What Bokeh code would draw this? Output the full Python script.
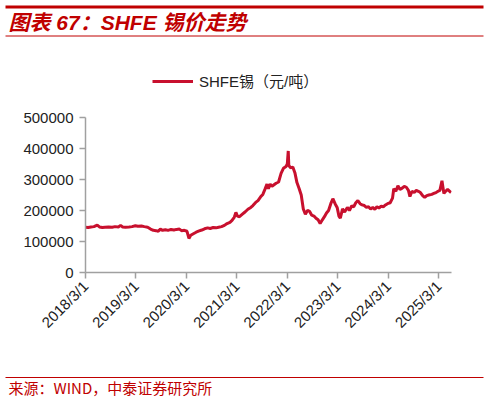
import pandas as pd
from bokeh.plotting import figure
from bokeh.layouts import column
from bokeh.models import (Range1d, FixedTicker, Legend, LegendItem, ColumnDataSource)
from bokeh.core.properties import value
from bokeh.embed import file_html
from bokeh.resources import INLINE

# SHFE tin price, yuan/ton
dates = [
    "2018-03-01", "2018-03-20", "2018-04-10", "2018-05-01", "2018-05-25", "2018-06-10",
    "2018-07-01", "2018-07-20", "2018-08-15", "2018-09-10", "2018-10-01", "2018-10-25",
    "2018-11-10", "2018-11-25", "2018-12-15", "2019-01-10", "2019-02-01", "2019-02-25",
    "2019-03-15", "2019-04-10", "2019-05-01", "2019-05-25", "2019-06-15", "2019-07-05",
    "2019-07-25", "2019-08-10", "2019-08-25", "2019-09-10", "2019-10-01", "2019-10-20",
    "2019-11-10", "2019-12-01", "2019-12-20", "2020-01-10", "2020-01-25", "2020-02-15",
    "2020-03-05", "2020-03-19", "2020-04-01", "2020-04-20", "2020-05-10", "2020-06-01",
    "2020-06-20", "2020-07-10", "2020-08-01", "2020-08-20", "2020-09-10", "2020-10-01",
    "2020-10-20", "2020-11-10", "2020-12-01", "2020-12-20", "2021-01-10", "2021-01-25",
    "2021-02-10", "2021-02-22", "2021-03-05", "2021-03-20", "2021-04-10", "2021-05-01",
    "2021-05-20", "2021-06-10", "2021-06-25", "2021-07-15", "2021-08-01", "2021-08-20",
    "2021-09-05", "2021-09-20", "2021-10-05", "2021-10-15", "2021-10-28", "2021-11-10",
    "2021-11-25", "2021-12-10", "2021-12-28", "2022-01-15", "2022-02-01", "2022-02-20",
    "2022-03-01", "2022-03-08", "2022-03-12", "2022-03-25", "2022-04-10", "2022-04-25",
    "2022-05-10", "2022-05-25", "2022-06-10", "2022-06-25", "2022-07-10", "2022-07-25",
    "2022-08-10", "2022-08-25", "2022-09-10", "2022-09-25", "2022-10-10", "2022-10-25",
    "2022-11-10", "2022-11-25", "2022-12-10", "2022-12-25", "2023-01-10", "2023-01-25",
    "2023-02-10", "2023-02-25", "2023-03-10", "2023-03-20", "2023-04-05", "2023-04-20",
    "2023-05-10", "2023-05-25", "2023-06-10", "2023-06-25", "2023-07-10", "2023-07-25",
    "2023-08-10", "2023-08-25", "2023-09-10", "2023-09-25", "2023-10-10", "2023-10-25",
    "2023-11-10", "2023-11-25", "2023-12-10", "2023-12-25", "2024-01-10", "2024-01-25",
    "2024-02-10", "2024-02-25", "2024-03-15", "2024-04-01", "2024-04-10", "2024-04-25",
    "2024-05-10", "2024-05-25", "2024-06-10", "2024-06-25", "2024-07-10", "2024-07-25",
    "2024-08-05", "2024-08-20", "2024-09-05", "2024-09-20", "2024-10-05", "2024-10-20",
    "2024-11-05", "2024-11-20", "2024-12-05", "2024-12-20", "2025-01-10", "2025-01-25",
    "2025-02-10", "2025-02-25", "2025-03-10", "2025-03-25", "2025-04-01", "2025-04-08",
    "2025-04-20", "2025-05-05", "2025-05-20", "2025-05-30",
]
tin_price = [
    146000, 145000, 147000, 148000, 153000, 147000,
    145000, 146000, 147000, 146000, 148000, 147000,
    152000, 147000, 146000, 147000, 148000, 151000,
    149000, 150000, 148000, 146000, 140000, 136000,
    135000, 133000, 140000, 136000, 138000, 136000,
    139000, 137000, 139000, 140000, 135000, 136000,
    133000, 110000, 120000, 125000, 130000, 134000,
    137000, 141000, 144000, 142000, 145000, 144000,
    146000, 148000, 152000, 158000, 162000, 168000,
    178000, 194000, 182000, 180000, 188000, 196000,
    204000, 210000, 216000, 226000, 232000, 244000,
    252000, 268000, 285000, 270000, 285000, 278000,
    283000, 288000, 292000, 320000, 336000, 342000,
    350000, 392000, 345000, 338000, 340000, 322000,
    290000, 272000, 250000, 205000, 188000, 200000,
    197000, 185000, 182000, 175000, 170000, 158000,
    170000, 180000, 192000, 200000, 222000, 238000,
    222000, 210000, 182000, 175000, 205000, 195000,
    210000, 200000, 215000, 212000, 225000, 232000,
    222000, 218000, 216000, 210000, 212000, 205000,
    210000, 204000, 212000, 208000, 214000, 212000,
    218000, 222000, 225000, 240000, 270000, 262000,
    280000, 268000, 272000, 278000, 275000, 265000,
    245000, 262000, 258000, 265000, 262000, 258000,
    248000, 242000, 248000, 250000, 252000, 255000,
    258000, 262000, 265000, 296000, 275000, 255000,
    262000, 268000, 262000, 258000,
]
tick_dates = ["2018-03-01", "2019-03-01", "2020-03-01", "2021-03-01",
              "2022-03-01", "2023-03-01", "2024-03-01", "2025-03-01"]
tick_labels = ["2018/3/1", "2019/3/1", "2020/3/1", "2021/3/1",
               "2022/3/1", "2023/3/1", "2024/3/1", "2025/3/1"]
y_ticks = [0, 100000, 200000, 300000, 400000, 500000]

RED = "#C00000"
LINE_RED = "#C8102E"
W = 488
LATIN_CJK = "Liberation Sans, Noto Sans CJK SC"


def ms(d):
    return pd.Timestamp(d).value / 1e6


def banner(height):
    f = figure(width=W, height=height, x_range=Range1d(0, W), y_range=Range1d(height, 0),
               output_backend="svg", toolbar_location=None, min_border=0,
               x_axis_location=None, y_axis_location=None, outline_line_color=None)
    f.grid.visible = False
    return f


# header: rules and title
head = banner(38)
head.segment(x0=[5], x1=[483], y0=[6.5], y1=[6.5], line_color=RED, line_width=3)
head.segment(x0=[5], x1=[483], y0=[35.5], y1=[35.5], line_color=RED, line_width=1)
head.text(x=[8], y=[22], text=["图表 67：SHFE 锡价走势"], text_color=RED,
          text_font=value(LATIN_CJK), text_font_size="21px",
          text_font_style="bold italic", text_baseline="middle")

# main chart; the frame reaches up to the legend row, the y axis stops at 500000
frame_h = 202
y_top = 500000 * frame_h / 155
src = ColumnDataSource(data=dict(date=pd.to_datetime(dates), price=tin_price))
p = figure(width=W, height=330, x_axis_type="datetime",
           x_range=Range1d(ms("2018-03-01"), ms("2025-06-02")),
           y_range=Range1d(0, y_top),
           output_backend="svg", toolbar_location=None,
           min_border_left=85, min_border_right=37,
           min_border_top=32, min_border_bottom=96,
           outline_line_color=None)
p.grid.visible = False
r = p.line("date", "price", source=src, line_color=LINE_RED, line_width=3)

tick_ms = [ms(d) for d in tick_dates]
p.xaxis.ticker = FixedTicker(ticks=tick_ms)
p.xaxis.major_label_overrides = {t: l for t, l in zip(tick_ms, tick_labels)}
p.xaxis.major_label_orientation = 0.785
p.xaxis.minor_tick_line_color = None
p.yaxis.ticker = FixedTicker(ticks=y_ticks)
p.yaxis.formatter.use_scientific = False
p.yaxis.minor_tick_line_color = None
p.yaxis.bounds = (0, 500000)

for ax in (p.xaxis, p.yaxis):
    ax.axis_line_color = "#A0A0A0"
    ax.axis_line_width = 1.5
    ax.major_tick_line_color = "#A0A0A0"
    ax.major_tick_line_width = 1.5
    ax.major_tick_in = 0
    ax.major_tick_out = 6
    ax.major_label_text_font = "Liberation Sans"
    ax.major_label_text_font_size = "15px"
    ax.major_label_text_color = "#222222"
    ax.major_label_standoff = 6
p.xaxis.major_label_standoff = 5

legend = Legend(items=[LegendItem(label="SHFE锡（元/吨）", renderers=[r])],
                location=(67, 181), orientation="horizontal",
                glyph_width=41, glyph_height=16, label_height=16,
                label_standoff=6, padding=0, spacing=0, margin=0,
                border_line_color=None, background_fill_alpha=0,
                label_text_font=LATIN_CJK, label_text_font_size="15px",
                label_text_color="#222222")
p.add_layout(legend)

# footer: rule and source
foot = banner(33)
foot.segment(x0=[5], x1=[483], y0=[9], y1=[9], line_color=RED, line_width=1)
foot.text(x=[8], y=[19], text=["来源：WIND，中泰证券研究所"], text_color=RED,
          text_font=value("Noto Sans CJK SC"), text_font_size="15px",
          text_baseline="middle")

page = column(column(head), p, column(foot))
open("out.html", "w").write(file_html(page, INLINE))
